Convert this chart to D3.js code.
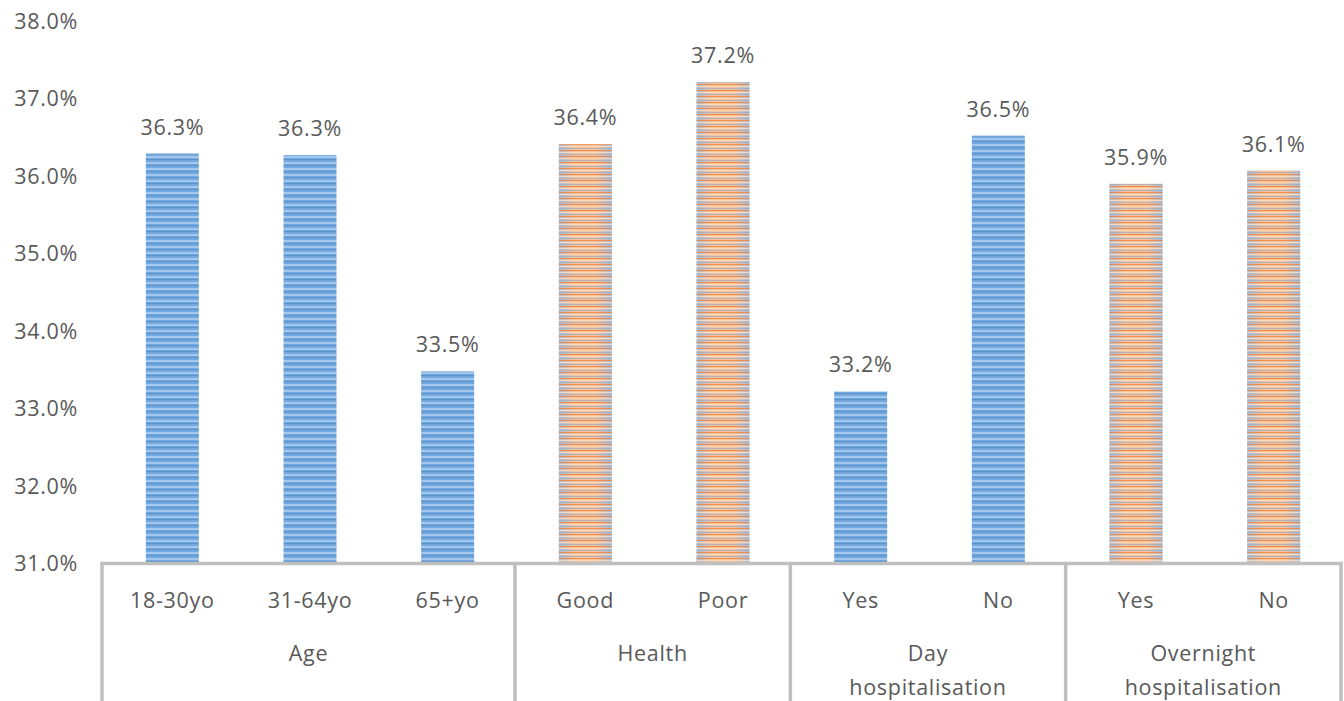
<!DOCTYPE html>
<html><head><meta charset="utf-8">
<script src="https://cdn.jsdelivr.net/npm/d3@7"></script>
<style>body{margin:0;background:#fff}svg{display:block}text{font-family:"Open Sans",sans-serif;fill:#595959;letter-spacing:0.7px}</style>
</head><body><svg id="c" width="1344" height="701"></svg>
<script>
const categories = ["18-30yo","31-64yo","65+yo","Good","Poor","Yes","No","Yes","No"];
const groupLabels = [["Age"],["Health"],["Day","hospitalisation"],["Overnight","hospitalisation"]];
const groupStarts = [0,3,5,7];
const groupEnds = [3,5,7,9];
const values = [36.29, 36.27, 33.48, 36.41, 37.21, 33.22, 36.52, 35.9, 36.07];
const colorKeys = ["blue","blue","blue","orange","orange","blue","blue","orange","orange"];
const yTicks = [31,32,33,34,35,36,37,38];

(function(){
const svg = d3.select("#c");
const W=1344,H=701;
const mLeft=102,mRight=1341,mTop=21,mBottom=563.5;
const FS=21.5;
const x = d3.scaleBand().domain(d3.range(categories.length)).range([mLeft+1.5,mRight+1.5]).paddingInner(0.615).paddingOuter(0.3075);
const y = d3.scaleLinear().domain([31,38]).range([mBottom,mTop]);

const defs = svg.append("defs");
const pb = defs.append("pattern").attr("id","pBlue").attr("patternUnits","userSpaceOnUse").attr("width",10).attr("height",6);
pb.append("rect").attr("width",10).attr("height",6).attr("fill","#72a8dd");
pb.append("rect").attr("y",0).attr("width",10).attr("height",2).attr("fill","#a3c7ec");
pb.append("rect").attr("y",3).attr("width",10).attr("height",1).attr("fill","#5b95d0");
const go = defs.append("linearGradient").attr("id","gOr").attr("x1","0").attr("x2","1").attr("y1","0").attr("y2","0");
go.append("stop").attr("offset","0").attr("stop-color","#aebdd2");
go.append("stop").attr("offset","0.3").attr("stop-color","#f7c39b");
go.append("stop").attr("offset","0.7").attr("stop-color","#f7c39b");
go.append("stop").attr("offset","1").attr("stop-color","#aebdd2");
const po = defs.append("pattern").attr("id","pOr").attr("patternUnits","userSpaceOnUse").attr("width",10).attr("height",6);
po.append("rect").attr("y",0).attr("width",10).attr("height",1).attr("fill","#ed7d31").attr("opacity",0.75);
po.append("rect").attr("y",2).attr("width",10).attr("height",1).attr("fill","#fde3cf").attr("opacity",0.7);
po.append("rect").attr("y",4).attr("width",10).attr("height",1).attr("fill","#8fa9c9").attr("opacity",0.65);

svg.append("g").selectAll("text").data(yTicks).join("text")
  .attr("x",78).attr("y",d=>y(d)).attr("dy","0.35em").attr("text-anchor","end")
  .attr("font-size",FS).text(d=>d.toFixed(1)+"%");

const data = values.map((v,i)=>({v,i,c:colorKeys[i]}));
const g = svg.append("g");
g.selectAll("rect.base").data(data).join("rect").attr("class","base")
  .attr("x",d=>x(d.i)).attr("width",x.bandwidth())
  .attr("y",d=>y(d.v)).attr("height",d=>mBottom-y(d.v))
  .attr("fill",d=>d.c==="blue"?"url(#pBlue)":"url(#gOr)");
g.selectAll("rect.ov").data(data.filter(d=>d.c==="orange")).join("rect").attr("class","ov")
  .attr("x",d=>x(d.i)).attr("width",x.bandwidth())
  .attr("y",d=>y(d.v)).attr("height",d=>mBottom-y(d.v)).attr("fill","url(#pOr)");

svg.append("g").selectAll("text").data(data).join("text")
  .attr("x",d=>x(d.i)+x.bandwidth()/2).attr("y",d=>y(d.v)-19).attr("text-anchor","middle")
  .attr("font-size",FS).text(d=>d.v.toFixed(1)+"%");

svg.append("line").attr("x1",mLeft-1.5).attr("x2",mRight+1.5).attr("y1",mBottom).attr("y2",mBottom)
  .attr("stroke","#bfbfbf").attr("stroke-width",3.5);

const unit = (mRight-mLeft)/categories.length;
svg.append("g").selectAll("line").data(groupStarts.concat([categories.length])).join("line")
  .attr("x1",d=>mLeft+d*unit).attr("x2",d=>mLeft+d*unit).attr("y1",mBottom-1.5).attr("y2",H)
  .attr("stroke","#bfbfbf").attr("stroke-width",3.5);

svg.append("g").selectAll("text").data(categories).join("text")
  .attr("x",(d,i)=>x(i)+x.bandwidth()/2).attr("y",600).attr("dy","0.35em")
  .attr("text-anchor","middle").attr("font-size",FS).text(d=>d);

groupLabels.forEach((lines,gi)=>{
  const cx = mLeft + (groupStarts[gi]+groupEnds[gi])/2*unit;
  const t = svg.append("text").attr("text-anchor","middle").attr("font-size",FS);
  lines.forEach((l,li)=>t.append("tspan").attr("x",cx).attr("y",653+li*34).attr("dy","0.35em").text(l));
});
})();
</script></body></html>
